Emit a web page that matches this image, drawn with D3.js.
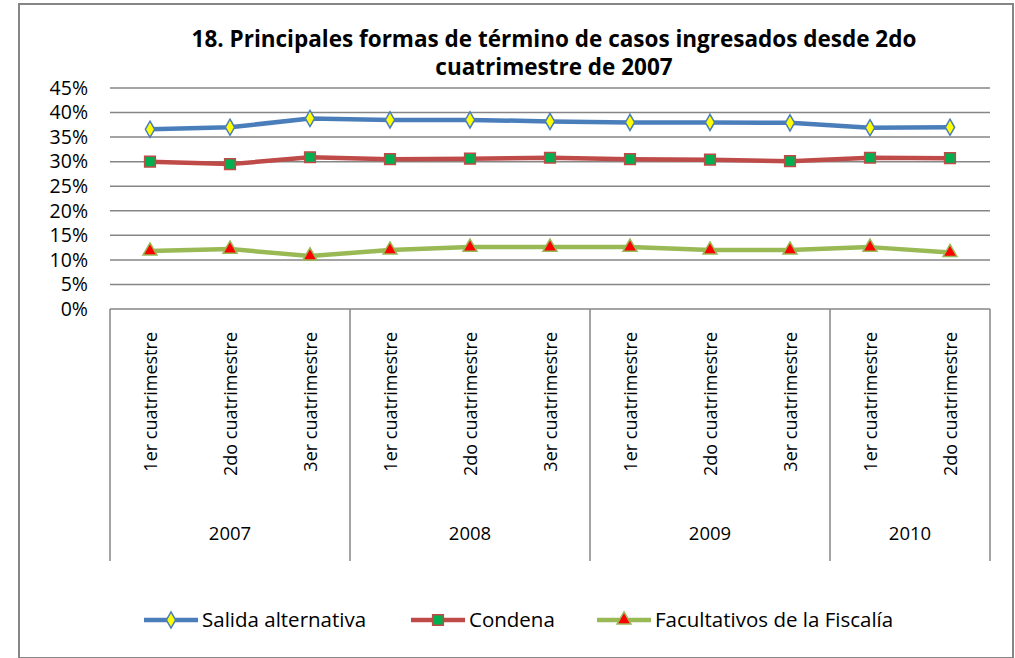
<!DOCTYPE html>
<html>
<head>
<meta charset="utf-8">
<script src="https://cdn.jsdelivr.net/npm/d3@7"></script>
<style>
  body { margin: 0; background: #fff; }
  svg text { font-family: "Open Sans", "Noto Sans", sans-serif; fill: #000; }
</style>
</head>
<body>
<svg id="chart"></svg>
<script>
// Chart data
const quarters = ['1er cuatrimestre', '2do cuatrimestre', '3er cuatrimestre',
                  '1er cuatrimestre', '2do cuatrimestre', '3er cuatrimestre',
                  '1er cuatrimestre', '2do cuatrimestre', '3er cuatrimestre',
                  '1er cuatrimestre', '2do cuatrimestre'];
const years = ['2007', '2008', '2009', '2010'];
const yearSpans = [3, 3, 3, 2];
const salida = [0.366, 0.370, 0.388, 0.385, 0.385, 0.382, 0.380, 0.380, 0.379, 0.369, 0.370];
const condena = [0.300, 0.295, 0.309, 0.305, 0.306, 0.308, 0.305, 0.304, 0.301, 0.308, 0.307];
const facultativos = [0.118, 0.122, 0.108, 0.120, 0.126, 0.126, 0.126, 0.120, 0.120, 0.126, 0.115];
const yTicks = [0, 0.05, 0.10, 0.15, 0.20, 0.25, 0.30, 0.35, 0.40, 0.45];

const series = [
  {name: 'Salida alternativa', values: salida, line: '#4A7EBB', symbol: d3.symbolDiamond, fill: '#FFFF00', size: 75},
  {name: 'Condena', values: condena, line: '#BE4B48', symbol: d3.symbolSquare, fill: '#00B050', size: 115},
  {name: 'Facultativos de la Fiscalía', values: facultativos, line: '#98B954', symbol: d3.symbolTriangle, fill: '#FF0000', size: 85}
];

const W = 1015, H = 658;
const margin = {top: 88, right: 25, bottom: 349, left: 110};
const width = W - margin.left - margin.right;   // 880
const height = H - margin.top - margin.bottom;  // ~221

const svg = d3.select('#chart').attr('width', W).attr('height', H);

// outer frame
svg.append('rect')
    .attr('x', 19).attr('y', 4)
    .attr('width', 994).attr('height', 654)
    .attr('fill', 'none').attr('stroke', '#868686').attr('stroke-width', 2);

// title
const title = svg.append('text')
    .attr('text-anchor', 'middle')
    .style('font-size', '22.5px').style('font-weight', 'bold');
title.append('tspan').attr('x', 554).attr('y', 47).text('18. Principales formas de término de casos ingresados desde 2do');
title.append('tspan').attr('x', 554).attr('y', 75).text('cuatrimestre de 2007');

const chart = svg.append('g')
    .attr('transform', `translate(${margin.left},${margin.top})`);

const xScale = d3.scaleBand()
    .domain(d3.range(quarters.length))
    .range([0, width]);

const yScale = d3.scaleLinear()
    .domain([0, 0.45])
    .range([height, 0]);

// gridlines
chart.append('g')
    .selectAll('line')
    .data(yTicks)
    .join('line')
    .attr('x1', 0).attr('x2', width)
    .attr('y1', d => yScale(d)).attr('y2', d => yScale(d))
    .attr('stroke', '#868686').attr('stroke-width', 1.5);

// y axis labels
const yAxis = d3.axisLeft(yScale)
    .tickValues(yTicks)
    .tickSize(0)
    .tickPadding(22)
    .tickFormat(d3.format('.0%'));

chart.append('g')
    .call(yAxis)
    .call(g => g.select('.domain').remove())
    .selectAll('text')
    .style('font-size', '19.5px')
    .style('font-family', '"Open Sans", "Noto Sans", sans-serif');

// category axis boxes
const boxBottom = 252;
let acc = 0;
const bounds = [0];
yearSpans.forEach(n => { acc += n; bounds.push(acc); });

chart.append('g')
    .selectAll('line')
    .data(bounds)
    .join('line')
    .attr('x1', d => d < quarters.length ? xScale(d) : width)
    .attr('x2', d => d < quarters.length ? xScale(d) : width)
    .attr('y1', height).attr('y2', height + boxBottom)
    .attr('stroke', '#868686').attr('stroke-width', 1.5);

// quarter labels (rotated)
chart.append('g')
    .selectAll('text')
    .data(quarters)
    .join('text')
    .attr('text-anchor', 'end')
    .attr('transform', (d, i) => `translate(${xScale(i) + xScale.bandwidth() / 2 + 7},${height + 23}) rotate(-90)`)
    .style('font-size', '18px')
    .text(d => d);

// year labels
chart.append('g')
    .selectAll('text')
    .data(years)
    .join('text')
    .attr('text-anchor', 'middle')
    .attr('x', (d, i) => {
      const x0 = xScale(bounds[i]);
      const x1 = bounds[i + 1] < quarters.length ? xScale(bounds[i + 1]) : width;
      return (x0 + x1) / 2;
    })
    .attr('y', height + 231)
    .style('font-size', '18.5px')
    .text(d => d);

// lines and markers
const line = d3.line()
    .x((d, i) => xScale(i) + xScale.bandwidth() / 2)
    .y(d => yScale(d));

series.forEach(s => {
  chart.append('path')
      .datum(s.values)
      .attr('fill', 'none')
      .attr('stroke', s.line)
      .attr('stroke-width', 4.5)
      .attr('stroke-linejoin', 'round')
      .attr('d', line);

  chart.append('g')
      .selectAll('path')
      .data(s.values)
      .join('path')
      .attr('transform', (d, i) => `translate(${xScale(i) + xScale.bandwidth() / 2},${yScale(d)})`)
      .attr('d', d3.symbol().type(s.symbol).size(s.size))
      .attr('fill', s.fill)
      .attr('stroke', s.line)
      .attr('stroke-width', 1.5);
});

// legend
const legendX = [144, 411, 597];
const legend = svg.append('g')
    .attr('transform', 'translate(0,620)');

series.forEach((s, i) => {
  const g = legend.append('g').attr('transform', `translate(${legendX[i]},0)`);
  g.append('line')
      .attr('x1', 0).attr('x2', 54)
      .attr('stroke', s.line).attr('stroke-width', 4.5);
  g.append('path')
      .attr('transform', 'translate(27,0)')
      .attr('d', d3.symbol().type(s.symbol).size(s.size))
      .attr('fill', s.fill)
      .attr('stroke', s.line)
      .attr('stroke-width', 1.5);
  g.append('text')
      .attr('x', 58).attr('y', 7)
      .style('font-size', '20.5px')
      .text(s.name);
});
</script>
</body>
</html>
